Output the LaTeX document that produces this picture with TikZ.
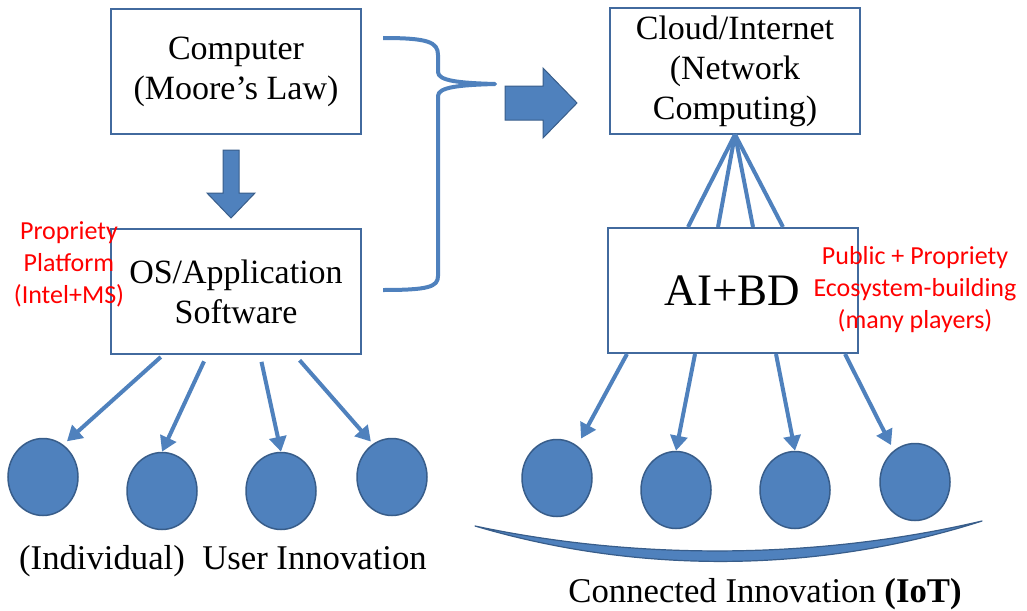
\documentclass[tikz,border=0pt]{standalone}
\usepackage{fontspec}
\setmainfont{Liberation Serif}
\newfontfamily\calibri{Carlito}
\usepackage{tikz}
\usetikzlibrary{arrows.meta,shapes.geometric}
\definecolor{officeblue}{RGB}{79,129,189}
\definecolor{darkblue}{RGB}{56,93,138}
\definecolor{frameblue}{RGB}{66,106,158}

\begin{document}
\begin{tikzpicture}[x=1pt,y=-1pt,
	box/.style={draw=frameblue,line width=2pt,minimum width=250pt,minimum height=125pt,
		align=center,inner sep=0pt,font=\fontsize{34}{40}\selectfont},
	dot/.style={ellipse,draw=darkblue,line width=1.5pt,fill=officeblue,
		minimum width=70pt,minimum height=77pt},
	fan/.style={officeblue,line width=4pt,-{Triangle[length=15pt,width=17pt]}},
	fanline/.style={officeblue,line width=4pt},
	redtext/.style={text=red,align=center,inner sep=0pt,font=\calibri\fontsize{26}{32}\selectfont},
	caption/.style={anchor=base,inner sep=0pt,font=\fontsize{34.7}{40}\selectfont}]
	\useasboundingbox (0,0) rectangle (1027,610);

	% boxes
	\node[box] (comp) at (236,71.5) {Computer\\(Moore's Law)};
	\node[box] (os) at (236,291.5) {OS/Application\\Software};
	\node[box] (cloud) at (735,71) {Cloud/Internet\\(Network\\Computing)};
	\node[box,font=\fontsize{45}{50}\selectfont] (ai) at (732.5,290.5) {AI+BD};

	% block arrows and brace
	\filldraw[fill=officeblue,draw=darkblue,line width=1pt]
		(223,150) -- (239,150) -- (239,193) -- (255,193) -- (231,218) -- (207,193) -- (223,193) -- cycle;
	\filldraw[fill=officeblue,draw=darkblue,line width=1pt]
		(505,86) -- (543,86) -- (543,68) -- (577,103) -- (543,138) -- (543,120) -- (505,120) -- cycle;
	\draw[officeblue,line width=4pt,line join=round]
		(383,38) .. controls (428,38) and (438,42) .. (438,55) -- (438,72)
		.. controls (438,81) and (460,83) .. (495,84)
		.. controls (460,85) and (438,87) .. (438,96) -- (438,276)
		.. controls (438,287) and (428,290) .. (383,290);

	% user innovation
	\node[dot] (u1) at (43,477) {};
	\node[dot] (u2) at (162,491) {};
	\node[dot] (u3) at (281,491) {};
	\node[dot] (u4) at (392,477) {};
	\draw[fan,shorten <=3pt,shorten >=5pt] ([xshift=-73pt]os.south) -- (u1.58);
	\draw[fan,shorten <=7pt] ([xshift=-29pt]os.south) -- (u2.north);
	\draw[fan,shorten <=7pt] ([xshift=24pt]os.south) -- (u3.north);
	\draw[fan,shorten <=7pt,shorten >=3pt] ([xshift=59pt]os.south) -- (u4.120);

	% connected innovation
	\foreach \dx in {-44.5,-14.5,20.5,50.5}
		\draw[fanline] (cloud.south) -- ([xshift=\dx pt]ai.north);
	\node[dot] (c1) at (557,478) {};
	\node[dot] (c2) at (676,490) {};
	\node[dot] (c3) at (795,490) {};
	\node[dot] (c4) at (915,482) {};
	\draw[fan,shorten >=8pt] ([xshift=-105.5pt]ai.south) -- (c1.58);
	\draw[fan] ([xshift=-37.5pt]ai.south) -- (c2.north);
	\draw[fan] ([xshift=43.5pt]ai.south) -- (c3.north);
	\draw[fan,shorten >=6pt] ([xshift=112.5pt]ai.south) -- (c4.124);
	\filldraw[fill=officeblue,draw=darkblue,line width=1.2pt,line join=round]
		(475,526) .. controls (640,575) and (820,573) .. (982,521)
		.. controls (820,559) and (640,561) .. cycle;

	% labels
	\node[redtext] (plat) at (69,264) {Propriety\\Platform\\(Intel+MS)};
	\node[redtext] (eco) at (915,290) {Public + Propriety\\Ecosystem-building\\(many players)};
	\node[caption] (usr) at (223,569) {(Individual)\ \ User Innovation};
	\node[caption] (iot) at (765,602) {Connected Innovation \textbf{(IoT)}};
\end{tikzpicture}
\end{document}
